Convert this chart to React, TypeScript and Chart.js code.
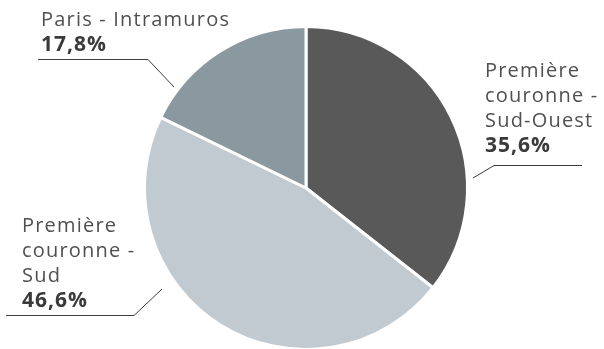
import React, { useEffect, useRef } from "react";
import { Chart, registerables } from "chart.js";
Chart.register(...registerables);

const categories = ["Première couronne - Sud-Ouest", "Première couronne - Sud", "Paris - Intramuros"];
const values = [35.6, 46.6, 17.8];
const valueLabels = ["35,6%", "46,6%", "17,8%"];
const labelLines = [["Première", "couronne -", "Sud-Ouest"], ["Première", "couronne -", "Sud"], ["Paris - Intramuros"]];
const colors = ["#595959", "#c2cad1", "#8a98a0"];

// label layout, relative to pie centre
const labelLayout = [
  { tx: 179, ty: -111, vy: -36, hx1: 276, hx2: 188, hy: -23, px: 167, py: -10 },
  { tx: -284, ty: 44, vy: 119, hx1: -300, hx2: -172, hy: 127, px: -144, py: 101 },
  { tx: -265, ty: -162, vy: -137, hx1: -268, hx2: -158, hy: -129, px: -132, py: -101 },
];

const FONT = "'Open Sans', sans-serif";
const LINE_H = 25;

const labelPlugin = {
  id: "outLabels",
  afterDraw(chart: any) {
    const ctx = chart.ctx;
    const meta = chart.getDatasetMeta(0);
    const arc = meta.data[0];
    if (!arc) return;
    const cx = arc.x;
    const cy = arc.y;
    ctx.save();
    labelLayout.forEach((l, i) => {
      ctx.textAlign = "left";
      ctx.textBaseline = "alphabetic";
      ctx.fillStyle = "#505050";
      ctx.font = `400 20px ${FONT}`;
      (ctx as any).letterSpacing = "1.2px";
      const lines = labelLines[i];
      lines.forEach((t, j) => ctx.fillText(t, cx + l.tx, cy + l.ty + j * LINE_H));
      ctx.fillStyle = "#3a3a3a";
      ctx.font = `700 21px ${FONT}`;
      (ctx as any).letterSpacing = "1px";
      ctx.fillText(valueLabels[i], cx + l.tx, cy + l.vy);
      ctx.strokeStyle = "#3c3c3c";
      ctx.lineWidth = 1;
      ctx.beginPath();
      ctx.moveTo(cx + l.hx1, cy + l.hy + 0.5);
      ctx.lineTo(cx + l.hx2, cy + l.hy + 0.5);
      ctx.lineTo(cx + l.px, cy + l.py);
      ctx.stroke();
    });
    ctx.restore();
  },
};

export default function App() {
  const ref = useRef<HTMLCanvasElement>(null);
  useEffect(() => {
    document.body.style.margin = "0";
    document.body.style.overflow = "hidden";
    const chart = new Chart(ref.current!, {
      type: "pie",
      data: {
        labels: categories,
        datasets: [
          {
            data: values,
            backgroundColor: colors,
            borderColor: "#ffffff",
            borderWidth: 3,
          },
        ],
      },
      options: {
        animation: false,
        responsive: true,
        maintainAspectRatio: false,
        layout: { padding: { top: 25, left: 8, right: 0, bottom: 0 } },
        plugins: { legend: { display: false }, tooltip: { enabled: false } },
      },
      plugins: [labelPlugin],
    });
    return () => chart.destroy();
  }, []);
  return (
    <div style={{ width: 604, height: 351, position: "relative" }}>
      <canvas ref={ref} />
    </div>
  );
}
